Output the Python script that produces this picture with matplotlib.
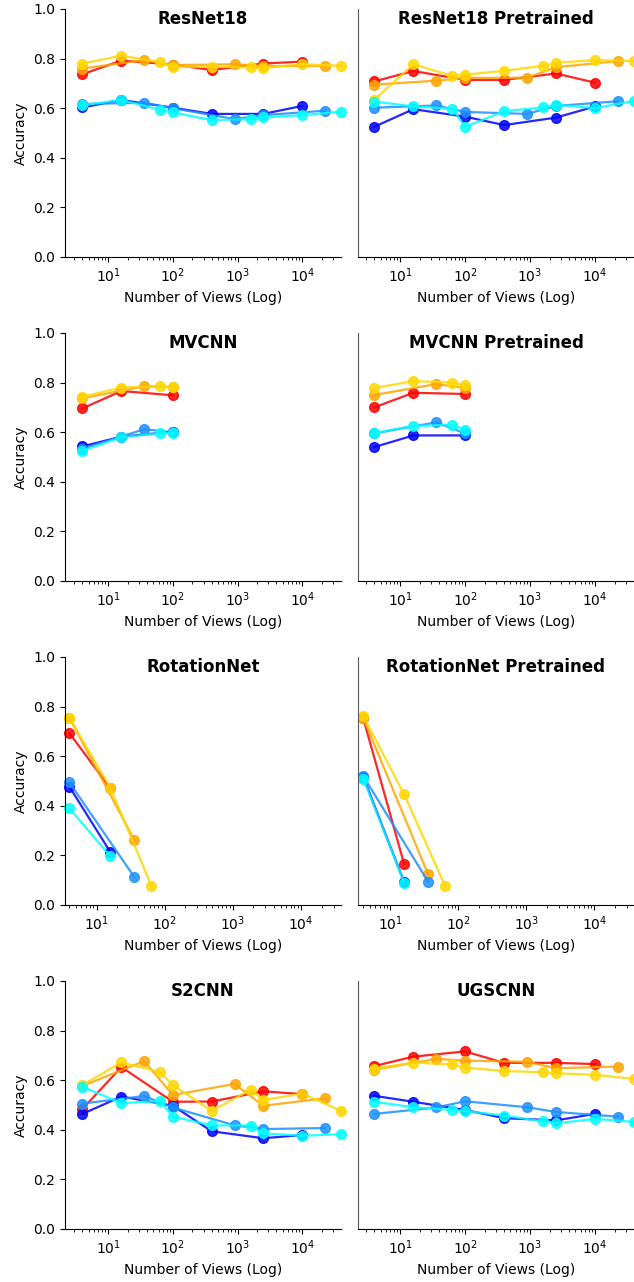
import matplotlib
matplotlib.use("Agg")
from matplotlib import pyplot as plt

# number of views for each group of series (a series uses the first len(values) entries)
views_a = [4, 16, 100, 400, 2500, 10000]          # red / blue
views_b = [4, 36, 100, 900, 2500, 22500]          # orange / dodgerblue
views_c = [4, 16, 64, 100, 400, 1600, 2500, 10000, 40000]  # gold / cyan

colors = ["red", "orange", "gold", "blue", "dodgerblue", "cyan"]
groups = [views_a, views_b, views_c, views_a, views_b, views_c]

titles = ["ResNet18", "ResNet18 Pretrained", "MVCNN", "MVCNN Pretrained",
          "RotationNet", "RotationNet Pretrained", "S2CNN", "UGSCNN"]

# accuracy values, order: red, orange, gold, blue, dodgerblue, cyan
resnet18 = [
    [0.737, 0.792, 0.776, 0.754, 0.780, 0.788],
    [0.760, 0.794, 0.774, 0.777, 0.770, 0.771],
    [0.780, 0.812, 0.785, 0.767, 0.767, 0.765, 0.762, 0.777, 0.771],
    [0.603, 0.633, 0.602, 0.577, 0.577, 0.609],
    [0.617, 0.622, 0.600, 0.556, 0.572, 0.590],
    [0.612, 0.633, 0.593, 0.583, 0.552, 0.556, 0.563, 0.572, 0.586],
]
resnet18_pre = [
    [0.708, 0.750, 0.714, 0.714, 0.740, 0.703],
    [0.695, 0.711, 0.722, 0.723, 0.765, 0.790],
    [0.634, 0.777, 0.730, 0.735, 0.751, 0.771, 0.783, 0.794, 0.790],
    [0.525, 0.596, 0.566, 0.532, 0.562, 0.607],
    [0.602, 0.611, 0.585, 0.577, 0.609, 0.628],
    [0.627, 0.607, 0.598, 0.525, 0.588, 0.603, 0.614, 0.600, 0.630],
]
mvcnn = [
    [0.696, 0.766, 0.749],
    [0.737, 0.785, 0.782],
    [0.743, 0.780, 0.785, 0.782],
    [0.543, 0.582, 0.602],
    [0.533, 0.612, 0.600],
    [0.525, 0.580, 0.596, 0.596],
]
mvcnn_pre = [
    [0.700, 0.759, 0.754],
    [0.750, 0.794, 0.778],
    [0.778, 0.806, 0.800, 0.790],
    [0.540, 0.587, 0.587],
    [0.595, 0.640, 0.595],
    [0.597, 0.625, 0.630, 0.610],
]
rotationnet = [
    [0.693, 0.470],
    [0.755, 0.261],
    [0.755, 0.472, 0.077],
    [0.477, 0.213],
    [0.494, 0.112],
    [0.390, 0.196],
]
rotationnet_pre = [
    [0.753, 0.165],
    [0.755, 0.124],
    [0.762, 0.446, 0.077],
    [0.517, 0.092],
    [0.520, 0.094],
    [0.510, 0.090],
]
s2cnn = [
    [0.484, 0.653, 0.513, 0.514, 0.555, 0.544],
    [0.577, 0.677, 0.540, 0.585, 0.497, 0.527],
    [0.580, 0.672, 0.633, 0.580, 0.476, 0.562, 0.520, 0.546, 0.476],
    [0.464, 0.534, 0.497, 0.394, 0.366, 0.379],
    [0.506, 0.536, 0.490, 0.418, 0.403, 0.407],
    [0.573, 0.508, 0.515, 0.453, 0.418, 0.417, 0.386, 0.376, 0.382],
]
ugscnn = [
    [0.657, 0.695, 0.716, 0.670, 0.670, 0.665],
    [0.642, 0.686, 0.679, 0.674, 0.648, 0.655],
    [0.647, 0.671, 0.664, 0.651, 0.637, 0.632, 0.628, 0.622, 0.605],
    [0.537, 0.513, 0.480, 0.447, 0.438, 0.464],
    [0.464, 0.490, 0.515, 0.491, 0.472, 0.453],
    [0.513, 0.491, 0.480, 0.476, 0.457, 0.434, 0.426, 0.444, 0.432],
]
results = [resnet18, resnet18_pre, mvcnn, mvcnn_pre,
           rotationnet, rotationnet_pre, s2cnn, ugscnn]

xlims = [(2.15, 39800), (2.25, 39800), (2.15, 39800), (2.25, 39800),
         (3.45, 38500), (3.35, 38500), (2.15, 39800), (2.25, 39800)]

W, H = 634, 1282
fig = plt.figure(figsize=(W / 100, H / 100), dpi=100)

for i, (title, data) in enumerate(zip(titles, results)):
    row, col = i // 2, i % 2
    left = 65 if col == 0 else 358
    top = 9 + 324 * row
    ax = fig.add_axes([left / W, 1 - (top + 248) / H, 276 / W, 248 / H])

    for color, xs, ys in zip(colors, groups, data):
        ax.plot(xs[:len(ys)], ys, color=color, lw=1.6, marker="o",
                markersize=7, alpha=0.85, clip_on=False)

    ax.set_xscale("log")
    ax.set_xlim(*xlims[i])
    ax.set_ylim(0, 1)
    ax.spines["top"].set_visible(False)
    ax.spines["right"].set_visible(False)
    ax.set_title(title, fontweight="bold", fontsize=12, y=0.94, pad=0)
    ax.set_xlabel("Number of Views (Log)", fontsize=10)
    if col == 0:
        ax.set_ylabel("Accuracy", fontsize=10)
    else:
        ax.tick_params(axis="y", left=False, labelleft=False)
        ax.spines["left"].set_color("0.35")

fig.savefig("out.png", dpi=100)
